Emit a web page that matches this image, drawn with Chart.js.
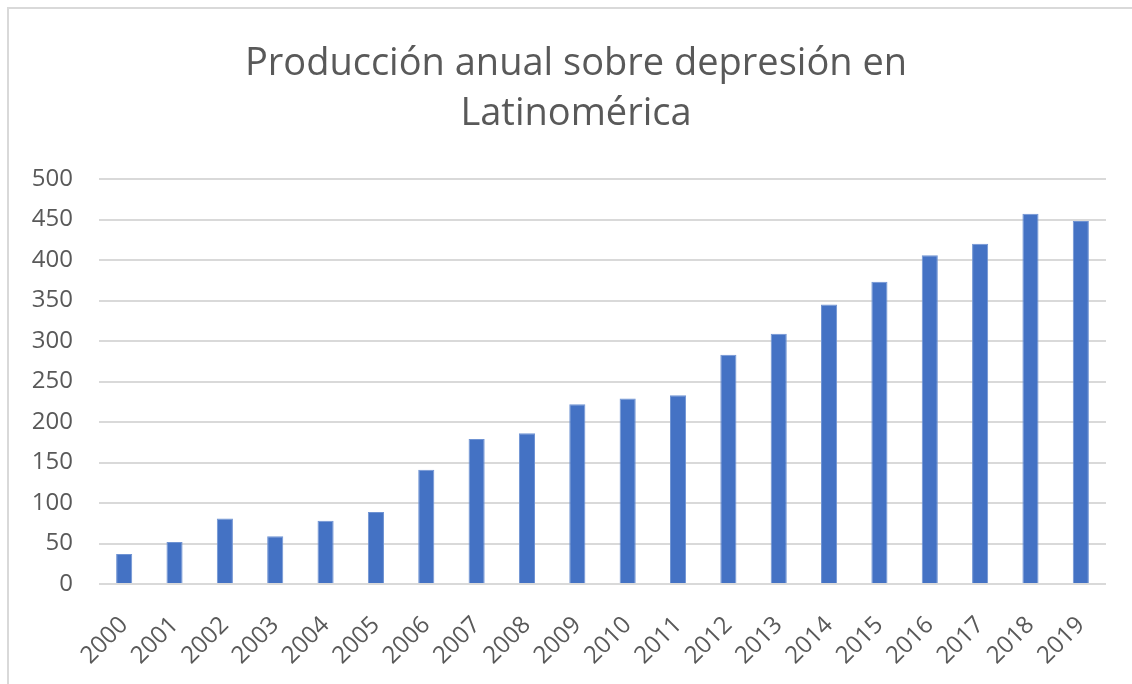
<!DOCTYPE html>
<html>
<head>
<meta charset="utf-8">
<script src="https://cdn.jsdelivr.net/npm/chart.js@4"></script>
<style>
  body { margin: 0; background: #fff; }
  #marco { position: absolute; left: 7px; top: 7px; width: 1200px; height: 800px; border: 2px solid #d9d9d9; }
  #caja { position: absolute; left: 0; top: 0; width: 1132px; height: 684px; }
</style>
</head>
<body>
<div id="marco"></div>
<div id="caja"><canvas id="grafico"></canvas></div>
<script>
// datos del gráfico
const anios = ['2000','2001','2002','2003','2004','2005','2006','2007','2008','2009',
               '2010','2011','2012','2013','2014','2015','2016','2017','2018','2019'];
const produccion = [37, 52, 81, 59, 78, 89, 141, 179, 186, 222,
                    229, 233, 283, 309, 345, 373, 406, 420, 457, 448];
const titulo = ['Producción anual sobre depresión en', 'Latinomérica'];

const gris = '#595959';
const fuente = "'Open Sans', 'Noto Sans', sans-serif";

// el título del original está centrado en todo el marco, no sobre el área del gráfico
const centrarTitulo = {
    id: 'centrarTitulo',
    afterLayout(chart) {
        const t = chart.titleBlock;
        if (t) { t.left += 21; t.right += 21; }
    }
};

const ctx = document.getElementById('grafico');
new Chart(ctx, {
    type: 'bar',
    data: {
        labels: anios,
        datasets: [{
            data: produccion,
            backgroundColor: '#4472C4',
            borderColor: '#6f93d3',
            borderWidth: 1,
            categoryPercentage: 1,
            barPercentage: 0.32
        }]
    },
    options: {
        responsive: true,
        maintainAspectRatio: false,
        animation: false,
        layout: { padding: { left: 4, right: 26, top: 0, bottom: 7 } },
        plugins: {
            legend: { display: false },
            tooltip: { enabled: false },
            title: {
                display: true,
                text: titulo,
                color: gris,
                font: { family: fuente, size: 38, weight: 'normal', lineHeight: '50px' },
                padding: { top: 39, bottom: 40 }
            }
        },
        scales: {
            x: {
                grid: { display: false, drawTicks: false },
                border: { display: false },
                ticks: {
                    color: gris,
                    font: { family: fuente, size: 24 },
                    minRotation: 45,
                    maxRotation: 45,
                    padding: 27,
                    autoSkip: false
                },
                afterFit: s => { s.height = 93; }
            },
            y: {
                min: 0,
                max: 500,
                grid: { color: '#d9d9d9', lineWidth: 2, drawTicks: false },
                border: { display: false },
                ticks: {
                    stepSize: 50,
                    color: gris,
                    font: { family: fuente, size: 24 },
                    padding: 26
                },
                afterFit: s => { s.width = 95; }
            }
        }
    },
    plugins: [centrarTitulo]
});
</script>
</body>
</html>
